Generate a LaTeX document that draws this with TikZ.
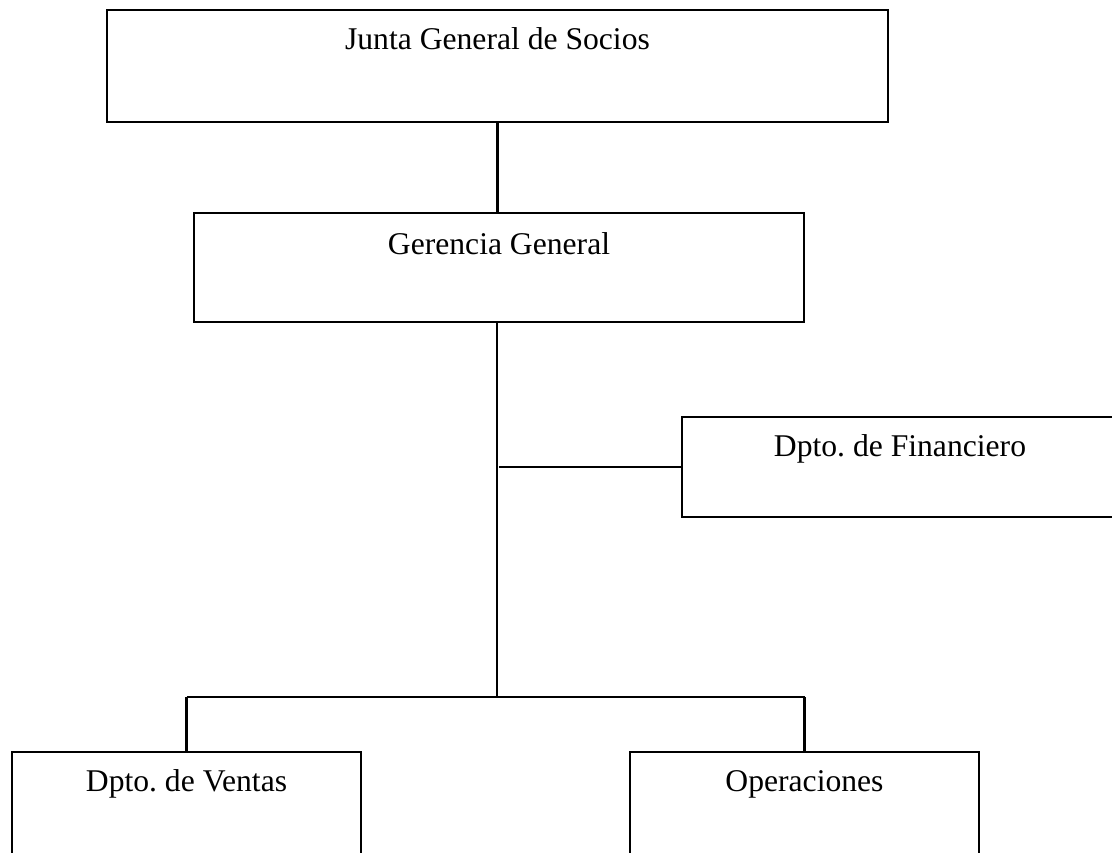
\documentclass[tikz,border=0pt]{standalone}
\usepackage{fontspec}
\setmainfont{Liberation Serif}
\usepackage{tikz}
\usepackage{xcolor}
\usetikzlibrary{shapes, calc, positioning}
\frenchspacing
\tikzset{
    orgbox/.style = {draw, rectangle, line width = 1.2pt, inner sep = 0pt},
    boxtext/.style = {anchor = base, inner sep = 0pt, font = \fontsize{18}{21}\selectfont},
    orgline/.style = {line width = 1.2pt}
}

\begin{document}
\begin{tikzpicture}[x = 0.02cm, y = -0.02cm]%{{{
                \clip (0, 0) rectangle (1112, 852);

                \node (Junta) [orgbox, minimum width = 15.62cm, minimum height = 2.24cm] at (497.5, 66) {};
                \node (Gerencia) [orgbox, minimum width = 12.2cm, minimum height = 2.18cm] at (499, 267.5) {};
                \node (Financiero) [orgbox, minimum width = 8.72cm, minimum height = 2cm] at (900, 467) {};
                \node (Ventas) [orgbox, minimum width = 6.98cm, minimum height = 2.4cm] at (186.5, 812) {};
                \node (Operaciones) [orgbox, minimum width = 6.98cm, minimum height = 2.4cm] at (804.5, 812) {};

                \node (JuntaT) [boxtext] at ([yshift = -0.82cm] Junta.north) { Junta General de Socios };
                \node (GerenciaT) [boxtext] at ([yshift = -0.85cm] Gerencia.north) { Gerencia General };
                \node (FinancieroT) [boxtext] at ([yshift = -0.82cm] Financiero.north) { Dpto. de Financiero };
                \node (VentasT) [boxtext] at ([yshift = -0.82cm] Ventas.north) { Dpto. de Ventas };
                \node (OperacionesT) [boxtext] at ([yshift = -0.82cm] Operaciones.north) { Operaciones };

                \coordinate (Split) at (497, 697);

                \draw [orgline] (Junta.south) -- (Junta.south |- Gerencia.north);
                \draw [orgline] (Split |- Gerencia.south) -- (Split);
                \draw [orgline] ([xshift = 1pt] Split |- Financiero.west) -- (Financiero.west);
                \draw [orgline] (Ventas.north |- Split) -- (Operaciones.north |- Split);
                \draw [orgline] (Ventas.north |- Split) -- (Ventas.north);
                \draw [orgline] (Operaciones.north |- Split) -- (Operaciones.north);
            \end{tikzpicture}
\end{document}
